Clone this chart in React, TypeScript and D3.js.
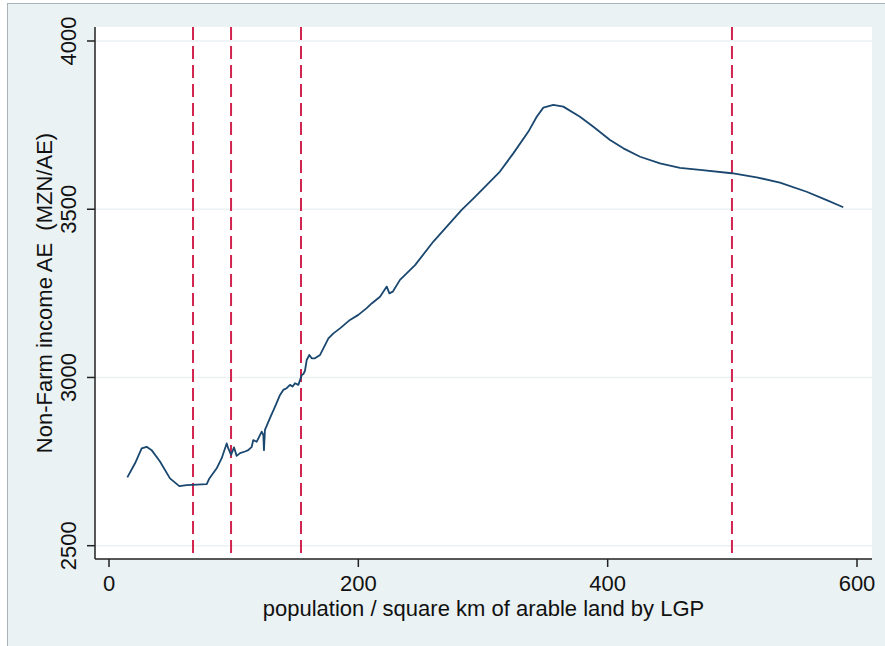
import React from 'react';
import * as d3 from 'd3';

// population density (x) and smoothed non-farm income (y)
const density = [
  14.7, 20.9, 26.2, 30.2, 34.2, 40.9, 48.9, 56.4, 62.3, 78.4, 80.5, 86.4, 90.4, 94.4, 95.7, 97.9,
  100.3, 102.4, 105.1, 109.1, 111.7, 114.5, 115.7, 118.5, 119.8, 122.5, 123.8, 124.3, 125.1, 129.1,
  133.2, 137.2, 139.8, 142.5, 145.2, 147.3, 149.2, 151.9, 154.6, 155.9, 157.2, 158.6, 160.7, 162.6,
  165.2, 169.3, 176, 180, 185.3, 193.3, 200, 206.7, 210.7, 217.4, 222.8, 224.9, 227.6, 233.4, 245.5,
  260.2, 282.9, 293.6, 313.6, 324.3, 336.3, 343.1, 348.4, 356.4, 364.4, 377.8, 388.5, 401.9, 412.6,
  426, 442, 458, 474, 499.5, 519.5, 538.2, 559.6, 575.7, 589,
];
const income = [
  2703, 2745, 2789, 2794, 2784, 2750, 2700, 2677, 2680, 2683, 2700, 2730, 2760, 2804, 2789, 2770,
  2792, 2767, 2775, 2780, 2784, 2794, 2814, 2809, 2819, 2839, 2829, 2784, 2844, 2879,
  2913, 2948, 2963, 2968, 2978, 2973, 2983, 2978, 3007, 3010, 3020, 3052, 3067, 3057,
  3057, 3067, 3116, 3131, 3146, 3171, 3186, 3206, 3220, 3240, 3270, 3250, 3255, 3290, 3334,
  3404, 3498, 3537, 3612, 3666, 3730, 3775, 3802, 3810, 3805, 3775, 3745, 3706, 3681,
  3656, 3636, 3623, 3617, 3607, 3595, 3579, 3552, 3527, 3506,
];
// cut-off lines
const cutoffs = [67.4, 97.9, 154, 499.7];
const xTicks = [0, 200, 400, 600];
const yTicks = [2500, 3000, 3500, 4000];

const W = 885;
const H = 646;
const plot = { left: 95, right: 872, top: 27, bottom: 559 };
const font = "'Liberation Sans', Arial, sans-serif";

export default function App() {
  const x = d3.scaleLinear().domain([0, 600]).range([109, 857]);
  const y = d3.scaleLinear().domain([2500, 4000]).range([545.7, 41]);

  const pts: [number, number][] = density.map((d, i) => [d, income[i]]);
  const line = d3.line<[number, number]>()
    .x(d => x(d[0]))
    .y(d => y(d[1]));

  return (
    <svg width={W} height={H} style={{ position: 'absolute', left: 0, top: 0 }}>
      <rect x={0} y={0} width={W} height={H} fill="#ffffff" />
      <rect x={7.5} y={3.5} width={W} height={H} fill="#eaf2f3" stroke="#a9b3b8" />
      <rect x={plot.left} y={plot.top} width={plot.right - plot.left} height={plot.bottom - plot.top} fill="#ffffff" />

      {yTicks.map(t => (
        <line key={'g' + t} x1={plot.left} x2={plot.right} y1={y(t)} y2={y(t)} stroke="#eaf2f3" strokeWidth={1.5} />
      ))}

      {cutoffs.map(c => (
        <line key={'c' + c} x1={x(c)} x2={x(c)} y1={plot.top} y2={plot.bottom}
          stroke="#d1244f" strokeWidth={2} strokeDasharray="13,6" />
      ))}

      <path d={line(pts) || ''} fill="none" stroke="#1a476f" strokeWidth={1.8} strokeLinejoin="round" />

      {/* axes */}
      <line x1={plot.left} x2={plot.left} y1={plot.top} y2={plot.bottom} stroke="#222" strokeWidth={1.5} />
      <line x1={plot.left} x2={plot.right} y1={plot.bottom} y2={plot.bottom} stroke="#222" strokeWidth={1.5} />

      {yTicks.map(t => (
        <g key={'y' + t}>
          <line x1={87} x2={plot.left} y1={y(t)} y2={y(t)} stroke="#222" strokeWidth={1.5} />
          <text transform={`translate(76,${y(t)}) rotate(-90)`} textAnchor="middle"
            fontFamily={font} fontSize={22} fill="#111">{t}</text>
        </g>
      ))}
      {xTicks.map(t => (
        <g key={'x' + t}>
          <line x1={x(t)} x2={x(t)} y1={plot.bottom} y2={567} stroke="#222" strokeWidth={1.5} />
          <text x={x(t)} y={591} textAnchor="middle" fontFamily={font} fontSize={22} fill="#111">{t}</text>
        </g>
      ))}

      <text x={(plot.left + plot.right) / 2} y={616} textAnchor="middle" fontFamily={font} fontSize={22} fill="#111">
        population / square km of arable land by LGP
      </text>
      <text transform={`translate(52,${(plot.top + plot.bottom) / 2}) rotate(-90)`} textAnchor="middle"
        fontFamily={font} fontSize={22} fill="#111" style={{ whiteSpace: 'pre' }}>
        {'Non-Farm income AE  (MZN/AE)'}
      </text>
    </svg>
  );
}
